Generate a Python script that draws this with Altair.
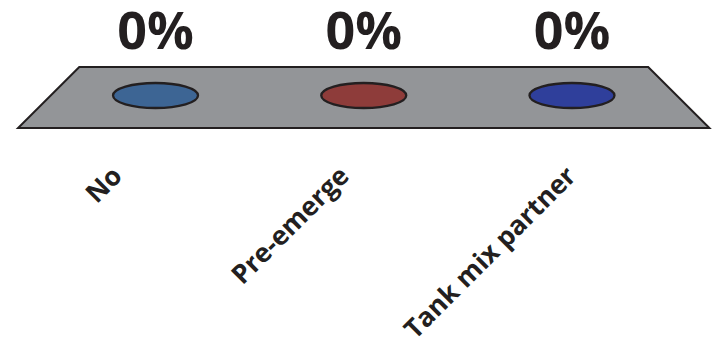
import altair as alt
import pandas as pd

# Share of respondents per answer
categories = ["No", "Pre-emerge", "Tank mix partner"]
shares = [0, 0, 0]
bar_colors = ["#3d6594", "#8e3c3a", "#2f3f9b"]

INK = "#231f20"
FLOOR = "#939598"
FONT = "Open Sans"

# 3D floor perspective, in category units measured from the middle category
BACK_HALF = 1.366
FRONT_HALF = 1.66
LABEL_STEP = 1.09
LABEL_SHIFT = -0.09

# flat cylinder top (zero-height bar) seen from above
ELLIPSE = "M-1,0 A1,0.294 0 1,1 1,0 A1,0.294 0 1,1 -1,0 Z"

n = len(categories)
mid = (n + 1) / 2
bars = pd.DataFrame({
    "category": categories,
    "share": shares,
    "pos": list(range(1, n + 1)),
})
floor = pd.DataFrame({
    "depth": [-1, 1],
    "left": [mid - FRONT_HALF, mid - BACK_HALF],
    "right": [mid + FRONT_HALF, mid + BACK_HALF],
})

x_scale = alt.Scale(domain=[0.5, n + 0.5], range=[51.4, 676.1], nice=False, zero=False)
value_scale = alt.Scale(domain=[0, 1], range=[95.5, -100], nice=False)

floor_layer = alt.Chart(floor).mark_area(
    orient="horizontal", fill=FLOOR, stroke=INK, strokeWidth=2, strokeJoin="miter"
).encode(
    y=alt.Y("depth:Q", scale=alt.Scale(domain=[-1, 1], range=[128, 67], nice=False), axis=None),
    x=alt.X("left:Q", scale=x_scale, axis=None),
    x2="right:Q",
)

tops = alt.Chart(bars).mark_point(
    shape=ELLIPSE, size=7225, filled=True, stroke=INK, strokeWidth=2.3, opacity=1
).encode(
    x=alt.X("pos:Q", scale=x_scale, axis=None),
    y=alt.Y("share:Q", scale=value_scale, axis=None),
    fill=alt.Fill("category:N", scale=alt.Scale(domain=categories, range=bar_colors), legend=None),
)

pct = alt.Chart(bars).mark_text(
    font=FONT, fontWeight="bold", fontSize=52, color=INK, baseline="alphabetic", dy=-46.5
).encode(
    x=alt.X("pos:Q", scale=x_scale, axis=None),
    y=alt.Y("share:Q", scale=value_scale, axis=None),
    text=alt.Text("share:Q", format=".0%"),
)

names = alt.Chart(bars).transform_calculate(
    lx=f"{mid} + (datum.pos - {mid}) * {LABEL_STEP} + {LABEL_SHIFT}"
).mark_text(
    angle=315, align="right", baseline="middle", font=FONT, fontWeight="bold",
    fontSize=26.5, color=INK
).encode(
    x=alt.X("lx:Q", scale=x_scale, axis=None),
    y=alt.value(172),
    text="category:N",
)

chart = alt.layer(floor_layer, tops, pct, names).resolve_scale(
    y="independent"
).properties(
    width=719, height=340, padding=0, autosize="none", background="white"
).configure_view(strokeWidth=0)

chart.save("out.html", embed_options={"renderer": "svg", "actions": False})
